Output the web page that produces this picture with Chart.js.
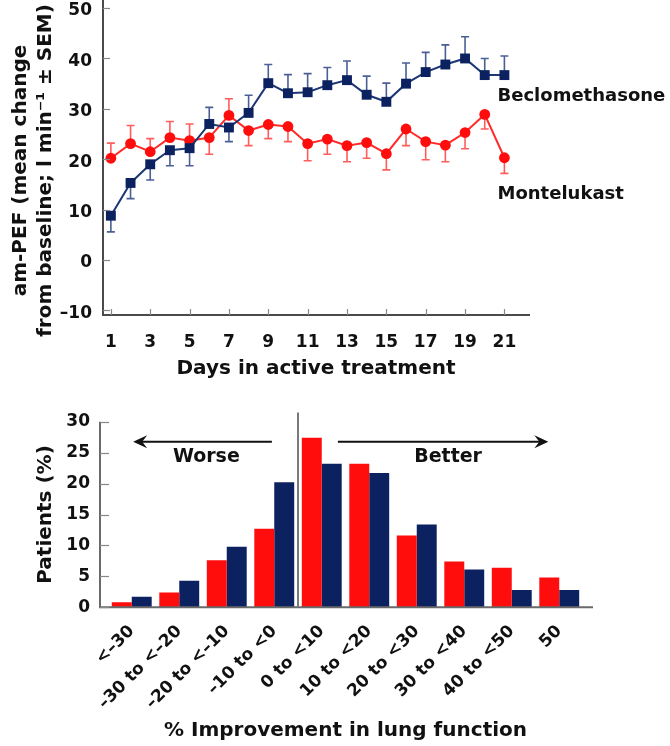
<!DOCTYPE html>
<html>
<head>
<meta charset="utf-8">
<script src="https://cdn.jsdelivr.net/npm/chart.js@4.4.0/dist/chart.umd.min.js"></script>
<style>
  html, body { margin: 0; padding: 0; background: #fff; }
  #wrap { position: relative; width: 670px; height: 746px; }
  #lineChart { position: absolute; left: 0; top: 0; }
  #barChart { position: absolute; left: 0; top: 390px; }
</style>
</head>
<body>
<div id="wrap">
  <canvas id="lineChart" width="670" height="390"></canvas>
  <canvas id="barChart" width="670" height="356"></canvas>
</div>
<script>
// ---- top panel: am-PEF by day ----
const days = [1, 2, 3, 4, 5, 6, 7, 8, 9, 10, 11, 12, 13, 14, 15, 16, 17, 18, 19, 20, 21];
const dayTicks = [1, 3, 5, 7, 9, 11, 13, 15, 17, 19, 21];
const pefTicks = [-10, 0, 10, 20, 30, 40, 50];

const becloPef = [8.8, 15.3, 19.0, 21.8, 22.2, 27.0, 26.3, 29.2, 35.1, 33.1, 33.3, 34.7, 35.7, 32.8, 31.4, 35.0, 37.3, 38.8, 40.0, 36.7, 36.7];
// one-sided SEM bars: + drawn upwards, - drawn downwards
const becloSem = [-3.2, -3.1, -3.1, -3.1, -3.5, 3.3, -2.8, 3.5, 3.7, 3.7, 3.7, 3.5, 3.8, 3.7, 3.7, 4.1, 3.9, 3.9, 4.3, 3.3, 3.8];

const montePef = [20.2, 23.1, 21.5, 24.3, 23.7, 24.3, 28.7, 25.7, 26.9, 26.5, 23.1, 24.0, 22.7, 23.3, 21.1, 26.0, 23.5, 22.8, 25.3, 28.9, 20.3];
const monteSem = [3.0, 3.6, 2.6, 3.2, 3.3, -3.3, 3.3, -3.0, -2.8, -3.0, -3.4, -3.0, -3.2, -3.1, -3.2, -3.3, -3.6, -3.3, -3.2, -2.9, -3.1];

const pefTitle = ['am-PEF (mean change', 'from baseline; l min\u207B\u00B9 \u00B1 SEM)'];

// ---- bottom panel: distribution of improvement ----
const bands = ['<\u201330', '\u201330 to <\u201320', '\u201320 to <\u201310', '\u201310 to <0', '0 to <10',
               '10 to <20', '20 to <30', '30 to <40', '40 to <50', '50'];
const montePct = [0.8, 2.4, 7.6, 12.7, 27.4, 23.2, 11.6, 7.4, 6.4, 4.8];
const becloPct = [1.7, 4.3, 9.8, 20.2, 23.2, 21.7, 13.4, 6.1, 2.8, 2.8];
const pctTicks = [0, 5, 10, 15, 20, 25, 30];

const RED = '#ff0d0d';
const NAVY = '#0b2160';
const FONT = '"DejaVu Sans", sans-serif';

Chart.defaults.font.family = FONT;
Chart.defaults.font.weight = 'bold';
Chart.defaults.color = '#111';

const dash = v => (v < 0 ? '\u2013' + Math.abs(v) : String(v));
// keep tick-label overflow from shrinking the plot vertically
const noVPad = s => { s.paddingTop = 0; s.paddingBottom = 0; };

// error bars, drawn under the markers
const errorBars = {
  id: 'errorBars',
  beforeDatasetsDraw(chart) {
    const { ctx, scales: { x, y } } = chart;
    chart.data.datasets.forEach(ds => {
      if (!ds.sem) return;
      ctx.save();
      ctx.strokeStyle = ds.semColor;
      ctx.lineWidth = 1.6;
      ds.data.forEach((p, i) => {
        const px = x.getPixelForValue(p.x);
        const y0 = y.getPixelForValue(p.y);
        const y1 = y.getPixelForValue(p.y + ds.sem[i]);
        ctx.beginPath();
        ctx.moveTo(px, y0); ctx.lineTo(px, y1);
        ctx.moveTo(px - 4, y1); ctx.lineTo(px + 4, y1);
        ctx.stroke();
      });
      ctx.restore();
    });
  }
};

// small tick marks pointing into the plot
const innerTicks = {
  id: 'innerTicks',
  afterDraw(chart, args, opts) {
    const { ctx, chartArea } = chart;
    ctx.save();
    ctx.strokeStyle = opts.color;
    ctx.lineWidth = 1.2;
    const y = chart.scales.y;
    y.ticks.forEach(t => {
      const py = Math.round(y.getPixelForValue(t.value)) + 0.5;
      ctx.beginPath(); ctx.moveTo(chartArea.left, py); ctx.lineTo(chartArea.left + opts.yLen, py); ctx.stroke();
    });
    const x = chart.scales.x;
    x.ticks.forEach(t => {
      const px = Math.round(x.getPixelForValue(t.value)) + 0.5;
      ctx.beginPath(); ctx.moveTo(px, chartArea.bottom); ctx.lineTo(px, chartArea.bottom - opts.xLen); ctx.stroke();
    });
    ctx.restore();
  }
};

// two-line rotated y title, sitting a bit below the plot centre like the original
const pefTitleDraw = {
  id: 'pefTitle',
  afterDraw(chart) {
    const { ctx, chartArea } = chart;
    ctx.save();
    ctx.translate(0, (chartArea.top + chartArea.bottom) / 2 + 13);
    ctx.rotate(-Math.PI / 2);
    ctx.font = 'bold 20px ' + FONT;
    ctx.fillStyle = '#111';
    ctx.textAlign = 'center';
    ctx.textBaseline = 'alphabetic';
    ctx.fillText(pefTitle[0], 0, 26);
    ctx.fillText(pefTitle[1], 0, 51);
    ctx.restore();
  }
};

// series names at the right of the lines
const seriesNames = [
  { text: 'Beclomethasone', day: 20.65, value: 31.6 },
  { text: 'Montelukast', day: 20.65, value: 12.2 }
];
const seriesLabels = {
  id: 'seriesLabels',
  afterDraw(chart) {
    const { ctx, scales: { x, y } } = chart;
    ctx.save();
    ctx.font = 'bold 18px ' + FONT;
    ctx.fillStyle = '#111';
    ctx.textBaseline = 'alphabetic';
    seriesNames.forEach(s => ctx.fillText(s.text, x.getPixelForValue(s.day), y.getPixelForValue(s.value)));
    ctx.restore();
  }
};

new Chart(document.getElementById('lineChart'), {
  type: 'line',
  data: {
    datasets: [
      {
        label: 'Beclomethasone',
        data: days.map((d, i) => ({ x: d, y: becloPef[i] })),
        sem: becloSem,
        semColor: '#4a5f95',
        borderColor: '#1d3674',
        borderWidth: 2,
        pointStyle: 'rect',
        pointRadius: 7,
        pointBackgroundColor: NAVY,
        pointBorderColor: NAVY,
        pointBorderWidth: 0
      },
      {
        label: 'Montelukast',
        data: days.map((d, i) => ({ x: d, y: montePef[i] })),
        sem: monteSem,
        semColor: '#ff5c5c',
        borderColor: '#ff2a2a',
        borderWidth: 2,
        pointStyle: 'circle',
        pointRadius: 5.4,
        pointBackgroundColor: RED,
        pointBorderColor: RED,
        pointBorderWidth: 0
      }
    ]
  },
  options: {
    responsive: false,
    animation: false,
    clip: false,
    layout: { autoPadding: false, padding: { top: 0, right: 141, left: 0, bottom: 0 } },
    plugins: {
      legend: { display: false },
      tooltip: { enabled: false },
      innerTicks: { color: '#888', yLen: 7, xLen: 6 }
    },
    scales: {
      x: {
        type: 'linear',
        min: 0.6,
        max: 22.25,
        afterBuildTicks: s => { s.ticks = dayTicks.map(v => ({ value: v })); },
        afterFit: s => { s.height = 75; },
        grid: { display: false, drawTicks: false },
        border: { display: true, color: '#4a4a4a', width: 2 },
        ticks: { padding: 17, font: { size: 17 }, callback: v => String(v) },
        title: {
          display: true,
          text: 'Days in active treatment',
          font: { size: 20, weight: 'bold' },
          padding: { top: 0, bottom: 9 }
        }
      },
      y: {
        min: -10.9,
        max: 51.6,
        afterBuildTicks: s => { s.ticks = pefTicks.map(v => ({ value: v })); },
        afterFit: s => { s.width = 103; noVPad(s); },
        grid: { display: false, drawTicks: false },
        border: { display: true, color: '#4a4a4a', width: 2 },
        ticks: { padding: 11, labelOffset: 3, font: { size: 17 }, callback: v => dash(v) }
      }
    }
  },
  plugins: [errorBars, innerTicks, pefTitleDraw, seriesLabels]
});

// ---- bottom panel decorations ----
const dividerAt = 3.5;
const arrows = [
  { from: 2.95, to: 0.03, y: 26.75, text: 'Worse', textAt: 1.57, textY: 24.3 },
  { from: 4.34, to: 8.77, y: 26.75, text: 'Better', textAt: 6.66, textY: 24.3 }
];

const barDecor = {
  id: 'barDecor',
  afterDraw(chart) {
    const { ctx, chartArea, scales: { x, y } } = chart;
    ctx.save();
    // axes, a little wider than the bar area
    const axisLeft = chartArea.left - 8;
    const y0 = y.getPixelForValue(0);
    ctx.strokeStyle = '#6a6a6a';
    ctx.lineWidth = 2;
    ctx.beginPath();
    ctx.moveTo(axisLeft, y.getPixelForValue(30));
    ctx.lineTo(axisLeft, y0);
    ctx.lineTo(chartArea.right + 10, y0);
    ctx.stroke();
    ctx.lineWidth = 1.2;
    ctx.strokeStyle = '#888';
    y.ticks.forEach(t => {
      const py = Math.round(y.getPixelForValue(t.value)) + 0.5;
      ctx.beginPath(); ctx.moveTo(axisLeft, py); ctx.lineTo(axisLeft + 9, py); ctx.stroke();
    });
    // divider between worse and better
    const dx = x.getPixelForValue(dividerAt);
    ctx.strokeStyle = '#7a7a7a';
    ctx.lineWidth = 2;
    ctx.beginPath();
    ctx.moveTo(dx, y.getPixelForValue(31.5));
    ctx.lineTo(dx, y0);
    ctx.stroke();
    // arrows and captions
    ctx.strokeStyle = '#111';
    ctx.fillStyle = '#111';
    arrows.forEach(a => {
      const x1 = x.getPixelForValue(a.from);
      const x2 = x.getPixelForValue(a.to);
      const py = y.getPixelForValue(a.y);
      const dir = x2 > x1 ? 1 : -1;
      ctx.lineWidth = 2;
      ctx.beginPath(); ctx.moveTo(x1, py); ctx.lineTo(x2 - dir * 6, py); ctx.stroke();
      ctx.beginPath();
      ctx.moveTo(x2, py);
      ctx.lineTo(x2 - dir * 14, py - 6.5);
      ctx.lineTo(x2 - dir * 9, py);
      ctx.lineTo(x2 - dir * 14, py + 6.5);
      ctx.closePath();
      ctx.fill();
      ctx.font = 'bold 19px ' + FONT;
      ctx.textAlign = 'center';
      ctx.textBaseline = 'middle';
      ctx.fillText(a.text, x.getPixelForValue(a.textAt), y.getPixelForValue(a.textY));
    });
    ctx.restore();
  }
};

new Chart(document.getElementById('barChart'), {
  type: 'bar',
  data: {
    labels: bands,
    datasets: [
      { label: 'Montelukast', data: montePct, backgroundColor: RED, borderWidth: 0 },
      { label: 'Beclomethasone', data: becloPct, backgroundColor: NAVY, borderWidth: 0 }
    ]
  },
  options: {
    responsive: false,
    animation: false,
    layout: { padding: { top: 31.7, right: 87, left: 0, bottom: 0 } },
    datasets: { bar: { categoryPercentage: 0.84, barPercentage: 1.0 } },
    plugins: { legend: { display: false }, tooltip: { enabled: false } },
    scales: {
      x: {
        afterFit: s => { s.height = 138.7; },
        grid: { display: false, drawTicks: false },
        border: { display: false },
        ticks: { autoSkip: false, maxRotation: 45, minRotation: 45, padding: 14, font: { size: 17 } },
        title: {
          display: true,
          text: '% Improvement in lung function',
          font: { size: 20, weight: 'bold' },
          padding: { top: 0, bottom: 3 }
        }
      },
      y: {
        min: 0,
        max: 30,
        afterBuildTicks: s => { s.ticks = pctTicks.map(v => ({ value: v })); },
        afterFit: s => { s.width = 108; noVPad(s); },
        grid: { display: false, drawTicks: false },
        border: { display: false },
        ticks: { padding: 18, font: { size: 17 } },
        title: {
          display: true,
          text: 'Patients (%)',
          font: { size: 20, weight: 'bold' },
          padding: { top: 34, bottom: 0 }
        }
      }
    }
  },
  plugins: [barDecor]
});
</script>
</body>
</html>
